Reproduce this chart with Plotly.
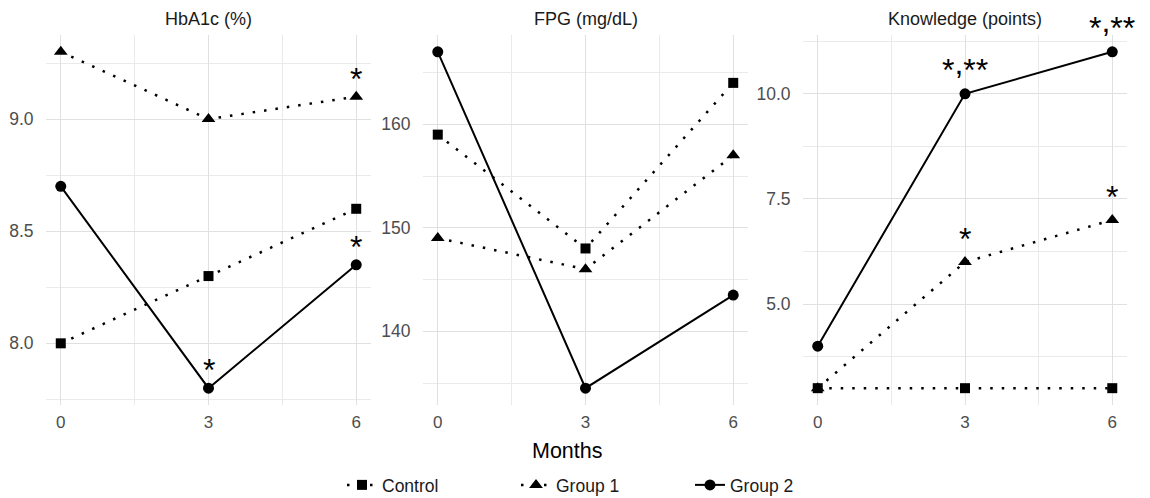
import plotly.graph_objects as go

# ---------------- data ----------------
months = [0, 3, 6]
month_ticks = [0, 3, 6]
month_minor = [1.5, 4.5]

series_names = ["Control", "Group 1", "Group 2"]

hba1c_control = [8.0, 8.3, 8.6]
hba1c_group1 = [9.3, 9.0, 9.1]
hba1c_group2 = [8.7, 7.8, 8.35]

fpg_control = [159, 148, 164]
fpg_group1 = [149, 146, 157]
fpg_group2 = [167, 134.5, 143.5]

knowledge_control = [3, 3, 3]
knowledge_group1 = [3, 6, 7]
knowledge_group2 = [4, 10, 11]

# significance labels per series (one per month)
hba1c_sig_control = ["", "", ""]
hba1c_sig_group1 = ["", "", "*"]
hba1c_sig_group2 = ["", "*", "*"]
fpg_sig_control = ["", "", ""]
fpg_sig_group1 = ["", "", ""]
fpg_sig_group2 = ["", "", ""]
knowledge_sig_control = ["", "", ""]
knowledge_sig_group1 = ["", "*", "*"]
knowledge_sig_group2 = ["", "*,**", "*,**"]

panel_titles = ["HbA1c (%)", "FPG (mg/dL)", "Knowledge (points)"]
hba1c_ticks = [8.0, 8.5, 9.0]
hba1c_ticktext = ["8.0", "8.5", "9.0"]
hba1c_minor = [7.75, 8.25, 8.75, 9.25]
fpg_ticks = [140, 150, 160]
fpg_ticktext = ["140", "150", "160"]
fpg_minor = [135, 145, 155, 165]
knowledge_ticks = [5.0, 7.5, 10.0]
knowledge_ticktext = ["5.0", "7.5", "10.0"]
knowledge_minor = [3.75, 6.25, 8.75, 11.25]
x_title = "Months"

# ---------------- styling ----------------
FONT = "Liberation Sans, Arial, sans-serif"
styles = {
    "Control": dict(symbol="square", size=10, dash="2.5px,9px", width=2.5),
    "Group 1": dict(symbol="triangle-up", size=12, dash="2.5px,9px", width=2.5),
    "Group 2": dict(symbol="circle", size=11, dash="solid", width=2),
}
# vertical pixel offset of the significance marks, per panel
sig_shift = [18, 18, 23]
sig_shift_multi = 27

panels = [
    (
        [hba1c_control, hba1c_group1, hba1c_group2],
        [hba1c_sig_control, hba1c_sig_group1, hba1c_sig_group2],
        hba1c_ticks, hba1c_ticktext, hba1c_minor,
    ),
    (
        [fpg_control, fpg_group1, fpg_group2],
        [fpg_sig_control, fpg_sig_group1, fpg_sig_group2],
        fpg_ticks, fpg_ticktext, fpg_minor,
    ),
    (
        [knowledge_control, knowledge_group1, knowledge_group2],
        [knowledge_sig_control, knowledge_sig_group1, knowledge_sig_group2],
        knowledge_ticks, knowledge_ticktext, knowledge_minor,
    ),
]


def sig_markup(s):
    # raise the comma so it sits between the asterisks as in the original
    return s.replace(",", "<span style='baseline-shift:0.22em'>,</span>")


W, H = 1150, 498
x_domains = [(46 / W, 371 / W), (423 / W, 748 / W), (803 / W, 1127 / W)]
y_domain = (1 - 405 / H, 1 - 35 / H)

fig = go.Figure()
annotations = []
layout_axes = {}

for i, (vals_list, sig_list, yt, ytt, ymin) in enumerate(panels):
    ax = "" if i == 0 else str(i + 1)
    for name, vals, sigs in zip(series_names, vals_list, sig_list):
        st = styles[name]
        fig.add_trace(
            go.Scatter(
                x=months,
                y=vals,
                name=name,
                mode="lines+markers",
                line=dict(color="black", width=st["width"], dash=st["dash"]),
                marker=dict(symbol=st["symbol"], size=st["size"], color="black"),
                xaxis="x" + ax,
                yaxis="y" + ax,
                showlegend=(i == 0),
                legendgroup=name,
                cliponaxis=False,
            )
        )
        for m, v, s in zip(months, vals, sigs):
            if s:
                annotations.append(
                    dict(
                        x=m, y=v, xref="x" + ax, yref="y" + ax, text=sig_markup(s),
                        showarrow=False, yanchor="middle", xanchor="center",
                        yshift=sig_shift_multi if "," in s else sig_shift[i],
                        font=dict(family=FONT, size=32, color="black"),
                    )
                )
    allv = [v for vs in vals_list for v in vs]
    lo, hi = min(allv), max(allv)
    pad = (hi - lo) * 0.05
    xpad = (max(months) - min(months)) * 0.05
    layout_axes["xaxis" + ax] = dict(
        domain=x_domains[i], anchor="y" + ax,
        range=[min(months) - xpad, max(months) + xpad],
        tickvals=month_ticks, ticktext=[str(t) for t in month_ticks],
        showgrid=True, gridcolor="#e0e0e0", gridwidth=1.3,
        minor=dict(tickvals=month_minor, showgrid=True, gridcolor="#eaeaea", gridwidth=1),
        zeroline=False, showline=False, automargin=False,
        ticks="outside", ticklen=2, tickcolor="rgba(0,0,0,0)",
        tickfont=dict(family=FONT, size=17, color="#4d4d4d"),
    )
    layout_axes["yaxis" + ax] = dict(
        domain=y_domain, anchor="x" + ax,
        range=[lo - pad, hi + pad],
        tickvals=yt, ticktext=ytt,
        showgrid=True, gridcolor="#e0e0e0", gridwidth=1.3,
        minor=dict(tickvals=ymin, showgrid=True, gridcolor="#eaeaea", gridwidth=1),
        zeroline=False, showline=False, automargin=False,
        ticks="outside", ticklen=8, tickcolor="rgba(0,0,0,0)",
        tickfont=dict(family=FONT, size=17.5, color="#4d4d4d"),
    )
    annotations.append(
        dict(
            x=(x_domains[i][0] + x_domains[i][1]) / 2, y=1 - 19 / H,
            xref="paper", yref="paper", text=panel_titles[i], showarrow=False,
            xanchor="center", yanchor="middle",
            font=dict(family=FONT, size=18, color="#1a1a1a"),
        )
    )

annotations.append(
    dict(
        x=567 / W, y=1 - 451 / H, xref="paper", yref="paper", text=x_title,
        showarrow=False, xanchor="center", yanchor="middle",
        font=dict(family=FONT, size=21.5, color="black"),
    )
)

fig.update_layout(
    width=W, height=H,
    margin=dict(l=0, r=0, t=0, b=0, autoexpand=False),
    paper_bgcolor="white", plot_bgcolor="white",
    font=dict(family=FONT),
    annotations=annotations,
    legend=dict(
        orientation="h", x=342 / W, xanchor="left", y=1 - 485 / H, yanchor="middle",
        font=dict(family=FONT, size=17.5, color="#1a1a1a"),
        itemwidth=30, entrywidth=129, entrywidthmode="pixels",
        bgcolor="rgba(0,0,0,0)",
    ),
    **layout_axes,
)

fig.write_html(
    "out.html",
    config={"displayModeBar": False},
    post_script="document.body.style.margin='0';document.body.style.overflow='hidden';",
)
